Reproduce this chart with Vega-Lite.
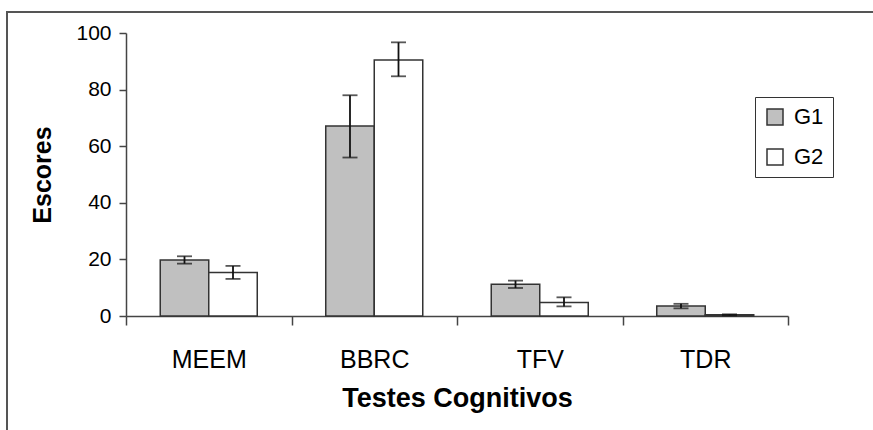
{
  "$schema": "https://vega.github.io/schema/vega-lite/v6.json",
  "width": 890,
  "height": 445,
  "padding": {"left": 7, "top": 12, "right": 0, "bottom": 0},
  "autosize": {"type": "none"},
  "config": {
    "view": {"stroke": "#555", "strokeWidth": 2},
    "font": "Liberation Sans",
    "axis": {"labelColor": "#000", "titleColor": "#000", "grid": false}
  },
  "data": {
    "values": [
      {"test": "MEEM", "group": "G1", "value": 19.8, "lo": 18.5, "hi": 21.1},
      {"test": "MEEM", "group": "G2", "value": 15.4, "lo": 13.1, "hi": 17.7},
      {"test": "BBRC", "group": "G1", "value": 67.1, "lo": 56.0, "hi": 78.0},
      {"test": "BBRC", "group": "G2", "value": 90.5, "lo": 84.7, "hi": 96.7},
      {"test": "TFV", "group": "G1", "value": 11.2, "lo": 9.9, "hi": 12.5},
      {"test": "TFV", "group": "G2", "value": 4.8, "lo": 3.4, "hi": 6.6},
      {"test": "TDR", "group": "G1", "value": 3.5, "lo": 2.7, "hi": 4.3},
      {"test": "TDR", "group": "G2", "value": 0.4, "lo": 0.2, "hi": 0.6}
    ]
  },
  "encoding": {
    "x": {
      "field": "test",
      "type": "nominal",
      "sort": ["MEEM", "BBRC", "TFV", "TDR"],
      "title": "Testes Cognitivos",
      "scale": {"range": [119, 781], "paddingInner": 0, "paddingOuter": 0},
      "axis": {
        "orient": "bottom",
        "offset": -141,
        "labelAngle": 0,
        "tickBand": "extent",
        "tickSize": 9,
        "tickColor": "#444",
        "tickWidth": 1.5,
        "domainColor": "#444",
        "domainWidth": 1.5,
        "labelFontSize": 25,
        "labelPadding": 22,
        "titleFontSize": 27,
        "titleFontWeight": "bold",
        "titlePadding": 13
      }
    },
    "xOffset": {
      "field": "group",
      "type": "nominal",
      "sort": ["G1", "G2"],
      "scale": {"paddingInner": 0, "paddingOuter": 0.706}
    }
  },
  "layer": [
    {
      "mark": {"type": "bar", "stroke": "#333", "strokeWidth": 1.5},
      "encoding": {
        "y": {
          "field": "value",
          "type": "quantitative",
          "title": "Escores",
          "scale": {"domain": [0, 100], "range": [304, 21]},
          "axis": {
            "orient": "left",
            "offset": -119,
            "values": [0, 20, 40, 60, 80, 100],
            "tickSize": 7,
            "tickColor": "#444",
            "tickWidth": 1.5,
            "domainColor": "#444",
            "domainWidth": 1.5,
            "labelFontSize": 21,
            "labelPadding": 8,
            "titleFontSize": 25,
            "titleFontWeight": "bold",
            "titlePadding": 20
          }
        },
        "fill": {
          "field": "group",
          "type": "nominal",
          "scale": {"domain": ["G1", "G2"], "range": ["#c0c0c0", "#ffffff"]},
          "legend": {
            "title": null,
            "orient": "none",
            "legendX": 748,
            "legendY": 85,
            "strokeColor": "#333",
            "fillColor": "#ffffff",
            "padding": 9,
            "symbolType": "square",
            "symbolSize": 256,
            "symbolStrokeColor": "#333",
            "symbolStrokeWidth": 1.5,
            "labelFontSize": 22,
            "labelOffset": 8,
            "rowPadding": 18,
            "labelColor": "#000"
          }
        }
      }
    },
    {
      "mark": {"type": "rule", "color": "#111", "strokeWidth": 1.8},
      "encoding": {
        "y": {"field": "lo", "type": "quantitative", "title": "Escores"},
        "y2": {"field": "hi"}
      }
    },
    {
      "mark": {"type": "tick", "color": "#111", "thickness": 1.8, "size": 15},
      "encoding": {"y": {"field": "lo", "type": "quantitative", "title": "Escores"}}
    },
    {
      "mark": {"type": "tick", "color": "#111", "thickness": 1.8, "size": 15},
      "encoding": {"y": {"field": "hi", "type": "quantitative", "title": "Escores"}}
    }
  ]
}
